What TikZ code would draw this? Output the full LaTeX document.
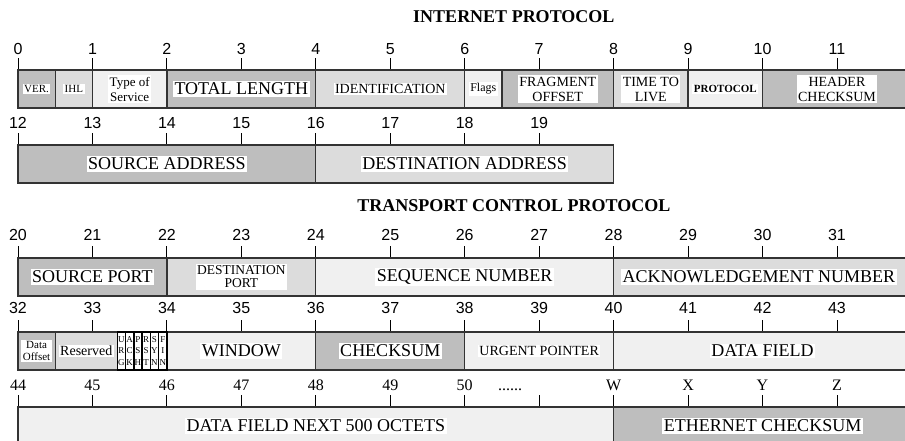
\documentclass[tikz,border=0pt]{standalone}
\usepackage{fontspec}
\setmainfont{Liberation Serif}
\setsansfont{Liberation Sans}
\newcommand\fsz[2]{\fontsize{#1}{#2}\selectfont}
\definecolor{cdark}{RGB}{190,190,190}
\definecolor{cmid}{RGB}{220,220,220}
\definecolor{clight}{RGB}{240,240,240}

\begin{document}
\begin{tikzpicture}[x=74.45pt,y=-1pt,
  field/.style={draw=black!80,line width=1.3pt},
  flagbit/.style={draw=black,line width=1.4pt,fill=white},
  tick/.style={line width=0.9pt},
  lbl/.style={fill=white,inner sep=1.5pt,align=center,font=\fsz{18}{18}},
  num/.style={anchor=base,font=\sffamily\fsz{16}{16}},
  onum/.style={anchor=base,font=\fsz{16}{16}},
  title/.style={font=\bfseries\fsz{18}{18}}]

  \useasboundingbox (-0.2418,0) rectangle (11.914,440);
  \clip (-0.2418,0) rectangle (11.914,440);

  % headings
  \node[title] (ip)  at (6.66,17)  {INTERNET PROTOCOL};
  \node[title] (tcp) at (6.66,206) {TRANSPORT CONTROL PROTOCOL};

  % octet scales
  \foreach \i in {0,...,11} {
    \draw[tick] (\i,58) -- (\i,70);
    \node[num] (n\i) at (\i,54) {\i};
  }
  \foreach \i in {0,...,7} {
    \pgfmathtruncatemacro\k{\i+12}
    \draw[tick] (\i,133) -- (\i,145);
    \node[num] (n\k) at (\i,128) {\k};
  }
  \foreach \i in {0,...,11} {
    \pgfmathtruncatemacro\k{\i+20}
    \draw[tick] (\i,246) -- (\i,258);
    \node[num] (n\k) at (\i,240) {\k};
  }
  \foreach \i in {0,...,11} {
    \pgfmathtruncatemacro\k{\i+32}
    \draw[tick] (\i,320) -- (\i,332);
    \node[num] (n\k) at (\i,313) {\k};
  }
  \foreach \i in {0,...,11} \draw[tick] (\i,395) -- (\i,407);
  \foreach \i/\t in {0/44,1/45,2/46,3/47,4/48,5/49,6/50,8/W,9/X,10/Y,11/Z}
    \node[onum] (n\t) at (\i,390) {\t};
  \node[onum] (dots) at (6.61,390) {......};

  % fields
  \foreach \a/\b/\c in {0/0.5/cdark,0.5/1/cmid,1/2/clight,2/4/cdark,4/6/cmid,
      6/6.5/clight,6.5/8/cdark,8/9/cmid,9/10/clight,10/12.5/cdark}
    \draw[field,fill=\c] (\a,70) rectangle (\b,108);
  \foreach \a/\b/\c in {0/4/cdark,4/8/cmid}
    \draw[field,fill=\c] (\a,145) rectangle (\b,183);
  \foreach \a/\b/\c in {0/2/cdark,2/4/cmid,4/8/clight,8/12.5/cmid}
    \draw[field,fill=\c] (\a,258) rectangle (\b,296);
  \foreach \a/\b/\c in {0/0.5/cdark,0.5/1.3333/cmid,2/4/clight,4/6/cdark,
      6/8/clight,8/12.5/clight}
    \draw[field,fill=\c] (\a,332) rectangle (\b,370);
  \foreach \a/\b/\c in {0/8/clight,8/12.5/cdark}
    \draw[field,fill=\c] (\a,407) rectangle (\b,450);

  % control bits
  \foreach \p/\q/\r [count=\j from 0] in {U/R/G,A/C/K,P/S/H,R/S/T,S/Y/N,F/I/N} {
    \draw[flagbit] ({4/3+\j/9},332) rectangle ({4/3+(\j+1)/9},370);
    \node[align=center,inner sep=0pt,font=\fsz{9}{11.5}] (bit\j)
      at ({4/3+(\j+0.5)/9},351) {\p\\\q\\\r};
  }

  \begin{scope}[every node/.style={lbl}]
    \node[font=\fsz{11}{12}] (ver) at (0.25,89) {VER.};
    \node[font=\fsz{11}{12}] (ihl) at (0.75,89) {IHL};
    \node[font=\fsz{13}{15}] (tos) at (1.5,89) {Type of\\Service};
    \node (totlen) at (3,89) {TOTAL LENGTH};
    \node[font=\fsz{14}{15}] (ident) at (5,89) {IDENTIFICATION};
    \node[font=\fsz{12}{12}] (flags) at (6.25,89) {Flags};
    \node[font=\fsz{14}{15}] (fragoff) at (7.25,89) {FRAGMENT\\OFFSET};
    \node[font=\fsz{14}{15}] (ttl) at (8.5,89) {TIME TO\\LIVE};
    \node[font=\bfseries\fsz{11}{12}] (proto) at (9.5,89) {PROTOCOL};
    \node[font=\fsz{14}{15}] (hdrsum) at (11,89) {HEADER\\CHECKSUM};

    \node (srcaddr) at (2,164) {SOURCE ADDRESS};
    \node (dstaddr) at (6,164) {DESTINATION ADDRESS};

    \node (srcport) at (1,277) {SOURCE PORT};
    \node[font=\fsz{13.5}{13}] (dstport) at (3,277) {DESTINATION\\PORT};
    \node (seqnum) at (6,277) {SEQUENCE NUMBER};
    \node (acknum) at (9.95,277) {ACKNOWLEDGEMENT NUMBER};

    \node[font=\fsz{11}{12}] (offset) at (0.25,351) {Data\\Offset};
    \node[font=\fsz{14}{14}] (resv) at (0.917,351) {Reserved};
    \node (window) at (3,351) {WINDOW};
    \node (cksum) at (5,351) {CHECKSUM};
    \node[font=\fsz{14}{14}] (urgptr) at (7,351) {URGENT POINTER};
    \node (data) at (10,351) {DATA FIELD};

    \node (datanext) at (4,426) {DATA FIELD NEXT 500 OCTETS};
    \node (ethsum) at (10,426) {ETHERNET CHECKSUM};
  \end{scope}
\end{tikzpicture}
\end{document}
